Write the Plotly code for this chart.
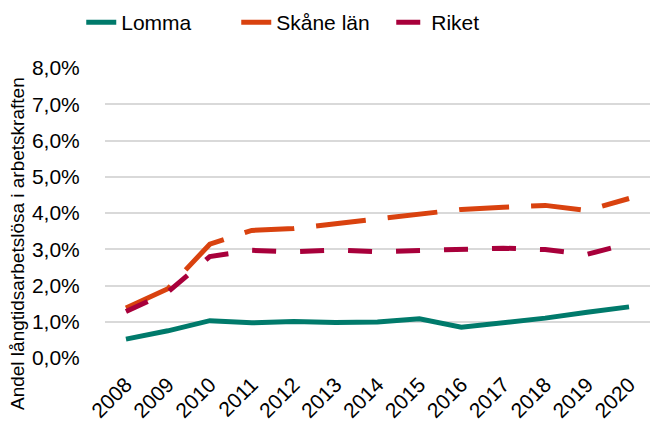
import plotly.graph_objects as go

years = [str(y) for y in range(2008, 2021)]
lomma = [0.52, 0.75, 1.03, 0.97, 1.01, 0.98, 0.99, 1.08, 0.85, 0.97, 1.10, 1.26, 1.41]
skane = [1.38, 1.91, 3.14, 3.52, 3.57, 3.70, 3.82, 3.97, 4.10, 4.16, 4.21, 4.07, 4.40]
riket = [1.28, 1.82, 2.80, 2.97, 2.93, 2.98, 2.93, 2.96, 3.01, 3.03, 2.99, 2.86, 3.16]
y_ticks = [0, 1, 2, 3, 4, 5, 6, 7, 8]
y_tick_labels = ["0,0%", "1,0%", "2,0%", "3,0%", "4,0%", "5,0%", "6,0%", "7,0%", "8,0%"]
y_title = "Andel långtidsarbetslösa i arbetskraften"

FONT = "Liberation Sans, Arial, sans-serif"

fig = go.Figure()
fig.add_trace(go.Scatter(x=years, y=lomma, name="Lomma", mode="lines",
                         line=dict(color="#007A6B", width=5)))
fig.add_trace(go.Scatter(x=years, y=skane, name="Skåne län", mode="lines",
                         line=dict(color="#D9420F", width=5, dash="50px,22px")))
fig.add_trace(go.Scatter(x=years, y=riket, name="Riket", mode="lines",
                         line=dict(color="#A8003B", width=5, dash="24px,24px")))

fig.update_layout(
    width=650, height=421,
    margin=dict(l=105, r=0, t=68, b=63),
    paper_bgcolor="white", plot_bgcolor="white",
    font=dict(family=FONT, size=21, color="black"),
    showlegend=True,
    legend=dict(orientation="h", xref="container", yref="container",
                x=0.125, y=0.995, xanchor="left", yanchor="top",
                font=dict(size=21), entrywidth=110,
                bgcolor="rgba(0,0,0,0)"),
)
fig.add_annotation(text=y_title, textangle=-90, xref="paper", yref="paper",
                   x=(17 - 105) / 545, y=(358 - 244) / 290,
                   xanchor="center", yanchor="middle", showarrow=False,
                   font=dict(size=19, family=FONT, color="black"))
fig.update_yaxes(range=[0, 8], tickvals=y_ticks, ticktext=y_tick_labels,
                 showgrid=True, gridcolor="#D9D9D9", gridwidth=2,
                 zeroline=False, showline=False, automargin=False,
                 ticks="outside", ticklen=20, tickcolor="rgba(0,0,0,0)",
                 tickfont=dict(size=21))
fig.update_xaxes(type="category", range=[-0.5, 12.5], tickangle=-45,
                 showgrid=False, showline=False, automargin=False,
                 ticks="outside", ticklen=5, tickcolor="rgba(0,0,0,0)",
                 tickfont=dict(size=21))

fig.write_html("out.html", config={"displayModeBar": False},
               post_script="document.body.style.margin='0px';document.body.style.padding='0px';")
